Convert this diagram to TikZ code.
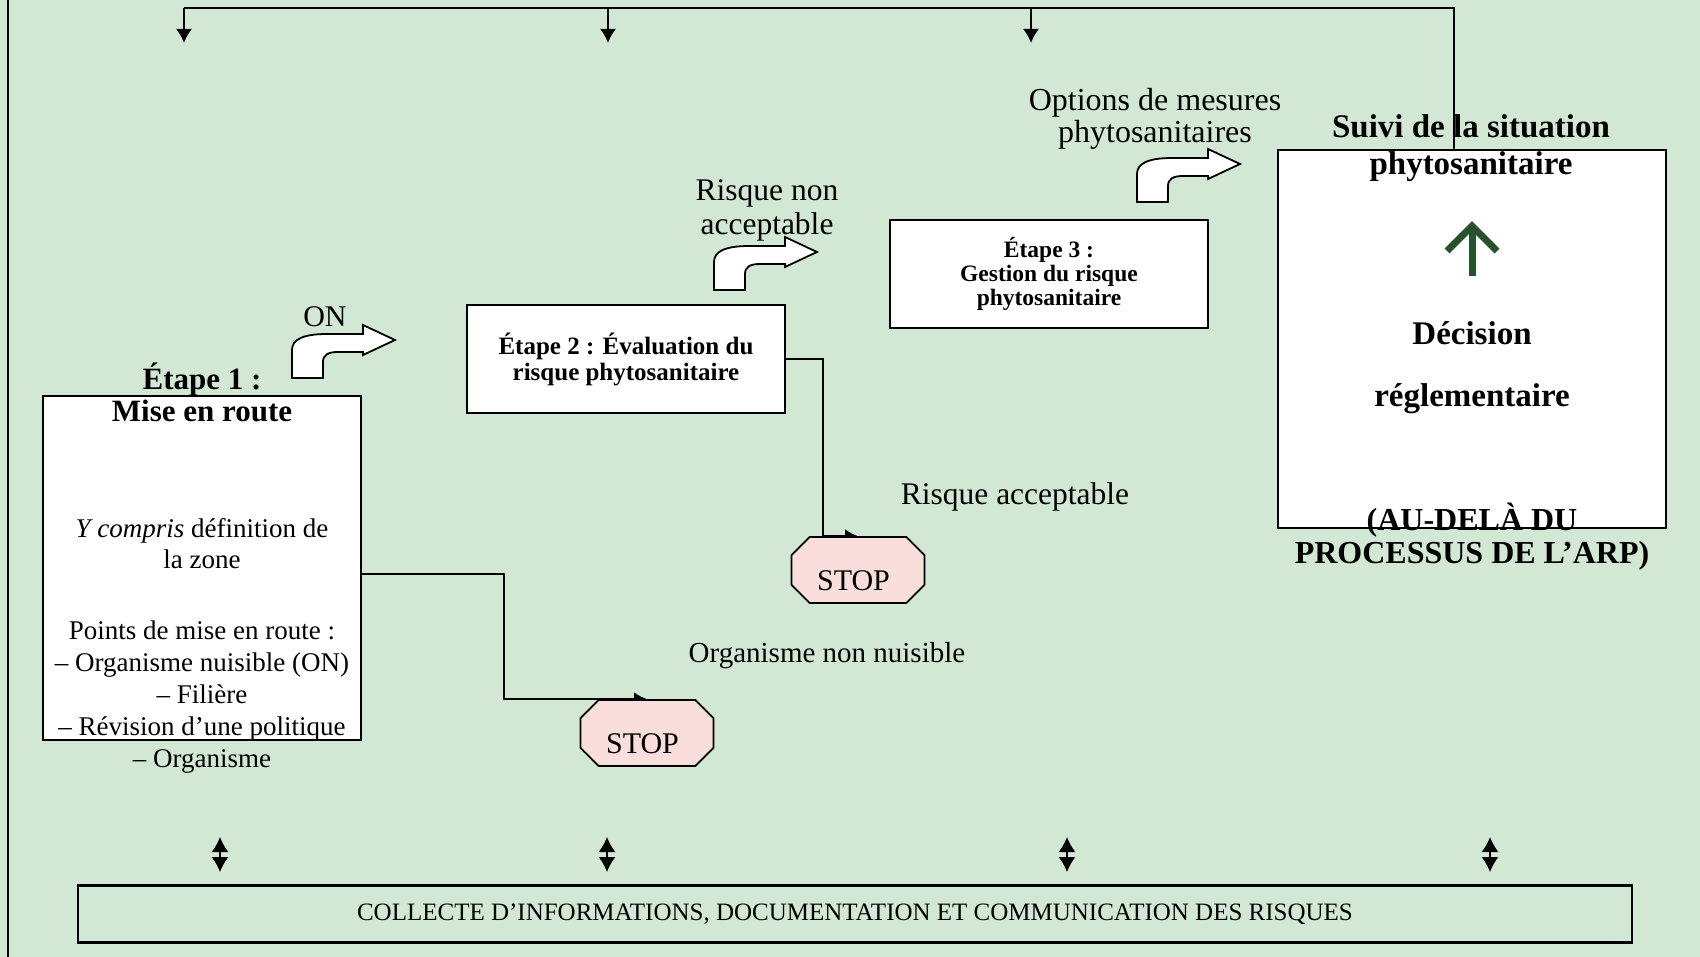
\documentclass[tikz,border=0pt]{standalone}
\usepackage{fontspec}
\setmainfont{Liberation Serif}
\usetikzlibrary{arrows.meta, shapes.misc, positioning}

\definecolor{fondvert}{RGB}{211,232,212}
\definecolor{rosestop}{RGB}{250,222,220}
\definecolor{vertfonce}{RGB}{40,82,45}

\pgfdeclarelayer{arriere}
\pgfsetlayers{arriere,main}

\tikzset{
  etape/.style={draw, fill=white, line width=1.8pt, inner sep=0pt, align=center},
  texte/.style={inner sep=0pt, align=center, font=\fontsize{27}{32}\selectfont},
  gras/.style={inner sep=0pt, align=center, font=\fontsize{33}{37}\selectfont\bfseries},
  etiquette/.style={inner sep=0pt, align=center, font=\fontsize{31.5}{34}\selectfont},
  stopbox/.style={draw, fill=rosestop, chamfered rectangle, chamfered rectangle xsep=15pt,
    line width=1.8pt, minimum width=133pt, minimum height=66pt, inner sep=0pt,
    text height=40pt, text depth=0pt, font=\fontsize{30}{30}\selectfont},
  fleche/.style={-{Latex[length=13pt,width=14pt]}, line width=2pt},
  fleche bas/.style={-{Latex[length=14pt,width=16pt]}, line width=2pt},
  double fleche/.style={{Latex[length=15pt,width=17pt]}-{Latex[length=15pt,width=17pt]}, line width=1.5pt},
  coude/.pic={
    \draw[fill=white, line width=1.8pt, line join=miter]
      (0,0) -- (0,-28) .. controls (0,-38) and (10,-44) .. (35,-44) -- (71,-44)
      -- (71,-53) -- (103,-38) -- (71,-23) -- (71,-26) -- (46,-26)
      .. controls (36,-26) and (31,-23) .. (31,-16) -- (31,0) -- cycle;
  }
}

\begin{document}
\begin{tikzpicture}[x=1pt, y=-1pt]
    \useasboundingbox (0,0) rectangle (1700,957);
    \begin{pgfonlayer}{arriere}
        \fill[fondvert] (0,0) rectangle (1700,957);
        \draw[line width=2.5pt] (8,0) -- (8,957);
    \end{pgfonlayer}

    % etape 1
    \node[etape, minimum width=318pt, minimum height=344pt] (e1) at (202,568) {};
    \node[texte, font=\fontsize{31}{32}\selectfont\bfseries] (t1a) at (202,392) {Étape 1 :\\Mise en route};
    \node[texte, font=\fontsize{27}{31}\selectfont] (t1b) at (202,544) {\textit{Y compris} définition de\\la zone};
    \node[texte] (t1c) at (202,697) {Points de mise en route :\\– Organisme nuisible (ON)\\– Filière\\– Révision d’une politique\\– Organisme};

    % etapes 2 et 3
    \node[etape, minimum width=318pt, minimum height=108pt, font=\fontsize{25}{26}\selectfont\bfseries] (e2) at (626,359) {Étape 2 : Évaluation du\\risque phytosanitaire};
    \node[etape, minimum width=318pt, minimum height=108pt, font=\fontsize{23.5}{24}\selectfont\bfseries] (e3) at (1049,274) {Étape 3 :\\Gestion du risque\\phytosanitaire};

    % suivi
    \node[etape, minimum width=388pt, minimum height=378pt] (suivi) at (1472,339) {};
    \node[gras] (ts1) at (1471,148) {Suivi de la situation\\phytosanitaire};
    \node[gras, font=\fontsize{33}{62}\selectfont\bfseries] (ts2) at (1472,368) {Décision\\réglementaire};
    \node[gras, font=\fontsize{32}{33}\selectfont\bfseries] (ts3) at (1472,537) {(AU-DELÀ DU\\PROCESSUS DE L’ARP)};
    \draw[vertfonce, line width=7pt] (1472,276) -- (1472,229);
    \draw[vertfonce, line width=7pt, line join=miter] (1447,251) -- (1472,226) -- (1497,251);

    % stop
    \node[stopbox] (stop1) at (858,570) {STOP\rule{9pt}{0pt}};
    \node[stopbox] (stop2) at (647,733) {STOP\rule{9pt}{0pt}};

    % etiquettes
    \node[etiquette, font=\fontsize{30}{30}\selectfont] (lon) at (325,317) {ON};
    \node[etiquette] (lrna) at (767,210) {Risque non\\acceptable};
    \node[etiquette, font=\fontsize{32}{32}\selectfont] (lopt) at (1155,119) {Options de mesures\\phytosanitaires};
    \node[etiquette] (lacc) at (1015,497) {Risque acceptable};
    \node[etiquette, font=\fontsize{29}{29}\selectfont] (lonn) at (827,656) {Organisme non nuisible};

    \pic at (292,378) {coude};
    \pic at (714,290) {coude};
    \pic at (1137,202) {coude};

    % collecte
    \node[draw, line width=2.2pt, minimum width=1554pt, minimum height=57pt, inner sep=0pt,
        font=\fontsize{25}{25}\selectfont] (collecte) at (855,914)
        {COLLECTE D’INFORMATIONS, DOCUMENTATION ET COMMUNICATION DES RISQUES};
    \foreach \x in {220,607,1067,1490}
        \draw[double fleche] (\x,837) -- (\x,872);

    \begin{pgfonlayer}{arriere}
        \draw[fleche] (e2.east) -- ++(37,0) |- (stop1.north);
        \draw[fleche] ([yshift=-6pt]e1.east) -- ++(142,0) |- (stop2.north);
        \coordinate (haut) at (1454,8);
        \foreach \x/\n in {184/a,608/b,1031/c} {
            \coordinate (d\n) at (\x,8);
            \draw[fleche bas] (d\n) -- ++(0,35);
        }
        \draw[line width=2pt] (suivi.north -| haut) -- (haut) -- (da);
    \end{pgfonlayer}
\end{tikzpicture}
\end{document}
